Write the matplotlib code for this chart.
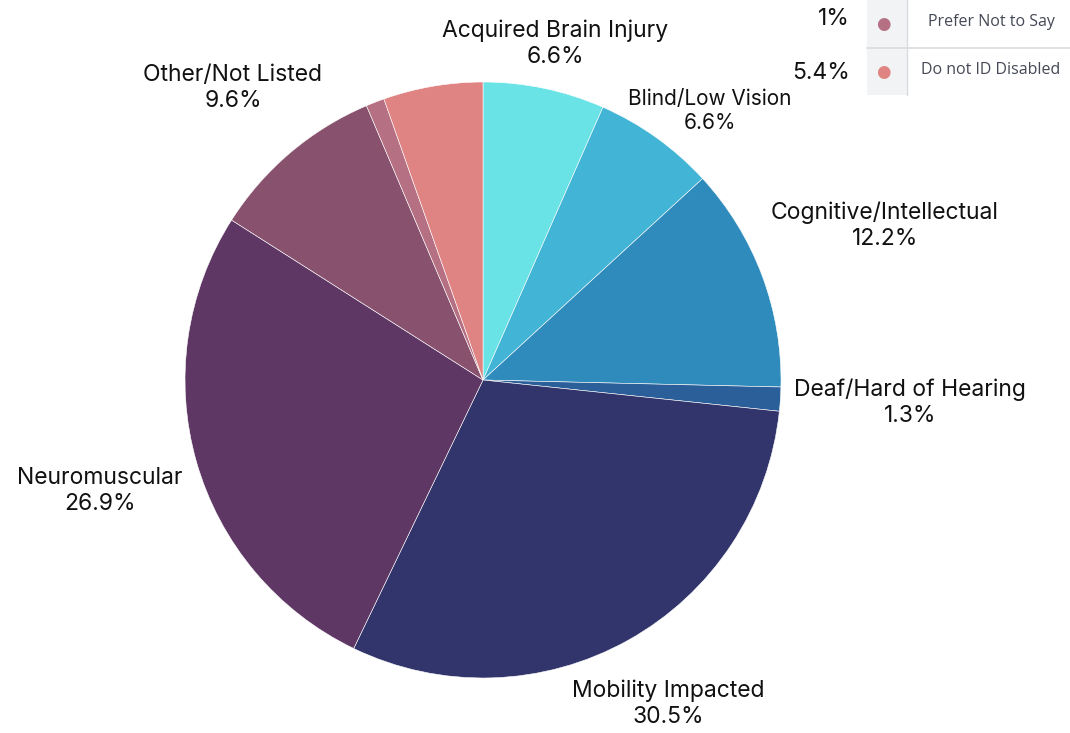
import matplotlib.pyplot as plt
from matplotlib.patches import Rectangle
from matplotlib.lines import Line2D

# Dados do gráfico
categorias = ["Acquired Brain Injury", "Blind/Low Vision", "Cognitive/Intellectual",
              "Deaf/Hard of Hearing", "Mobility Impacted", "Neuromuscular",
              "Other/Not Listed", "Prefer Not to Say", "Do not ID Disabled"]
percentagens = [6.6, 6.6, 12.2, 1.3, 30.5, 26.9, 9.6, 1.0, 5.4]
rotulos_pct = ["6.6%", "6.6%", "12.2%", "1.3%", "30.5%", "26.9%", "9.6%", "1%", "5.4%"]
cores = ["#6ae3e6", "#42b5d6", "#2e8bbb", "#2a5f9a", "#32356b",
         "#5e3764", "#88526f", "#b57083", "#e08383"]

# posição dos rótulos (em raios, a partir do centro) - só fatias com rótulo junto à tarte
pos_rotulos = [(0.242, 1.128), (0.762, 0.903), (1.349, 0.517), (1.433, -0.077),
               (0.621, -1.087), (-1.285, -0.372), (-0.839, 0.980), None, None]
tam_rotulos = [16.5, 15, 16.5, 16.5, 16.5, 16.5, 16.5, None, None]

fig = plt.figure(figsize=(10.7, 7.33), dpi=100)
ax = fig.add_axes([185 / 1070, 55 / 733, 596 / 1070, 596 / 733])

wedges, _ = ax.pie(percentagens, colors=cores, startangle=90, counterclock=False,
                   radius=1.0, wedgeprops=dict(edgecolor="white", linewidth=0.4))
ax.set_xlim(-1, 1)
ax.set_ylim(-1, 1)
ax.set_aspect("equal")
ax.axis("off")

fonte = "Inter"
for cat, pct, pos, tam in zip(categorias, rotulos_pct, pos_rotulos, tam_rotulos):
    if pos is None:
        continue
    ax.text(pos[0], pos[1], f"{cat}\n{pct}", ha="center", va="center", fontsize=tam,
            family=fonte, color="#111111", linespacing=1.25, clip_on=False)

# Pequena tabela no canto superior direito
fig.patches.append(Rectangle((867 / 1070, 1 - 95 / 733), 40 / 1070, 95 / 733,
                             transform=fig.transFigure, facecolor="#f2f3f5",
                             edgecolor="none"))
fig.lines.append(Line2D([907 / 1070, 907 / 1070], [1, 1 - 95 / 733],
                        transform=fig.transFigure, color="#d9dbe0", lw=1))
fig.lines.append(Line2D([867 / 1070, 1], [1 - 48 / 733, 1 - 48 / 733],
                        transform=fig.transFigure, color="#d9dbe0", lw=1.2))

for i, idx in enumerate([7, 8]):
    yy = 1 - (24 + 48 * i) / 733
    fig.text(883 / 1070, yy, "●", color=cores[idx], fontsize=12, ha="center",
             va="center", family="DejaVu Sans")
    fig.text(991 / 1070, yy + 2 / 733, categorias[idx], color="#444955", fontsize=11.5,
             ha="center", va="center", family="Open Sans")
    fig.text(850 / 1070, 1 - (19 + 54 * i) / 733, rotulos_pct[idx], color="#111111",
             fontsize=16.5, ha="right", va="center", family=fonte)

fig.savefig("out.png", dpi=100, facecolor="white")
